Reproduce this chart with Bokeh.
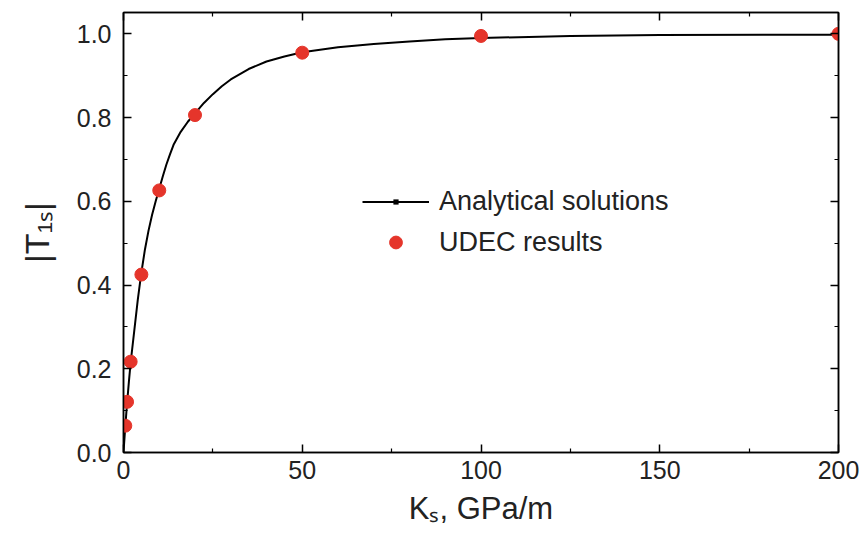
from bokeh.plotting import figure
from bokeh.models import (Range1d, LinearAxis, FixedTicker, Legend, LegendItem,
                          PrintfTickFormatter, CustomJSTickFormatter, ColumnDataSource)
from bokeh.embed import file_html
from bokeh.resources import INLINE

# Analytical solution curve
ks_curve = [0, 0.5, 1, 1.5, 2, 3, 4, 5, 6, 7, 8, 9, 10, 11, 12, 13, 14, 16, 18, 20, 22.5, 25,
            27.5, 30, 35, 40, 45, 50, 60, 70, 80, 90, 100, 125, 150, 200]
t_curve = [0, 0.062, 0.118, 0.168, 0.215, 0.29, 0.365, 0.43, 0.485, 0.53, 0.568, 0.6, 0.63,
           0.66, 0.688, 0.712, 0.735, 0.766, 0.79, 0.81, 0.835, 0.856, 0.875, 0.891, 0.916,
           0.934, 0.946, 0.956, 0.968, 0.976, 0.982, 0.987, 0.99, 0.995, 0.997, 0.998]

# UDEC results
ks_udec = [0.5, 1, 2, 5, 10, 20, 50, 100, 200]
t_udec = [0.064, 0.121, 0.217, 0.425, 0.626, 0.806, 0.955, 0.995, 1.0]

x_ticks = [0, 50, 100, 150, 200]
x_minor = [25, 75, 125, 175]
y_ticks = [0, 0.2, 0.4, 0.6, 0.8, 1.0]
y_minor = [0.1, 0.3, 0.5, 0.7, 0.9]

FONT = "Liberation Sans"
TXT = "#222222"
RED = "#E5352B"

p = figure(width=861, height=541, x_range=Range1d(0, 200), y_range=Range1d(0, 1.051),
           output_backend="svg", toolbar_location=None,
           min_border_left=123, min_border_right=23, min_border_top=12, min_border_bottom=89,
           x_axis_label="Kₛ, GPa/m", y_axis_label="|T₁ₛ|")
p.grid.visible = False
p.outline_line_color = "black"
p.outline_line_width = 1.5
p.background_fill_color = "white"
p.border_fill_color = "white"


def style_axis(ax, ticks, minor):
    ax.ticker = FixedTicker(ticks=ticks, minor_ticks=minor)
    ax.axis_line_color = "black"
    ax.axis_line_width = 1.5
    ax.major_tick_line_color = "black"
    ax.major_tick_line_width = 1.5
    ax.minor_tick_line_color = "black"
    ax.minor_tick_line_width = 1.2
    ax.major_tick_in = 8
    ax.major_tick_out = 0
    ax.minor_tick_in = 4
    ax.minor_tick_out = 0
    ax.major_label_text_font = FONT
    ax.major_label_text_font_size = "25px"
    ax.major_label_text_color = TXT
    ax.axis_label_text_font = FONT
    ax.axis_label_text_font_style = "normal"
    ax.axis_label_text_color = TXT


xa = p.xaxis[0]
style_axis(xa, x_ticks, x_minor)
xa.formatter = PrintfTickFormatter(format="%d")
xa.major_label_standoff = 8
xa.axis_label_text_font_size = "31px"
xa.axis_label_standoff = 9

ya = p.yaxis[0]
style_axis(ya, y_ticks, y_minor)
ya.formatter = PrintfTickFormatter(format="%.1f")
ya.major_label_standoff = 12
ya.axis_label_text_font_size = "34px"
ya.axis_label_standoff = 18

blank = CustomJSTickFormatter(code="return ''")
top = LinearAxis(formatter=blank)
style_axis(top, x_ticks, x_minor)
top.major_label_standoff = 0
top.major_label_text_font_size = "1px"
p.add_layout(top, "above")
right = LinearAxis(formatter=blank)
style_axis(right, y_ticks, y_minor)
right.major_label_standoff = 0
right.major_label_text_font_size = "1px"
p.add_layout(right, "right")

curve_src = ColumnDataSource(dict(x=ks_curve, y=t_curve))
line_r = p.line("x", "y", source=curve_src, line_color="black", line_width=2)
# symbol of the analytical series: size 0 on the plot, drawn only in the legend
sq_r = p.scatter("x", "y", source=curve_src, marker="square", size=0,
                 fill_color="black", line_color=None)
pts_r = p.scatter(ks_udec, t_udec, size=13, fill_color=RED, line_color=RED)

common = dict(border_line_color=None, background_fill_alpha=0, padding=0, margin=0,
              spacing=0, glyph_width=67, label_height=32, label_standoff=10,
              label_text_font=FONT, label_text_font_size="27px", label_text_color=TXT)

legend1 = Legend(items=[LegendItem(label="Analytical solutions", renderers=[line_r, sq_r])],
                 location=(239, 235), glyph_height=13, **common)
legend2 = Legend(items=[LegendItem(label="UDEC results", renderers=[pts_r])],
                 location=(239, 194), glyph_height=32, **common)
p.add_layout(legend1)
p.add_layout(legend2)

open("out.html", "w").write(file_html(p, INLINE))
